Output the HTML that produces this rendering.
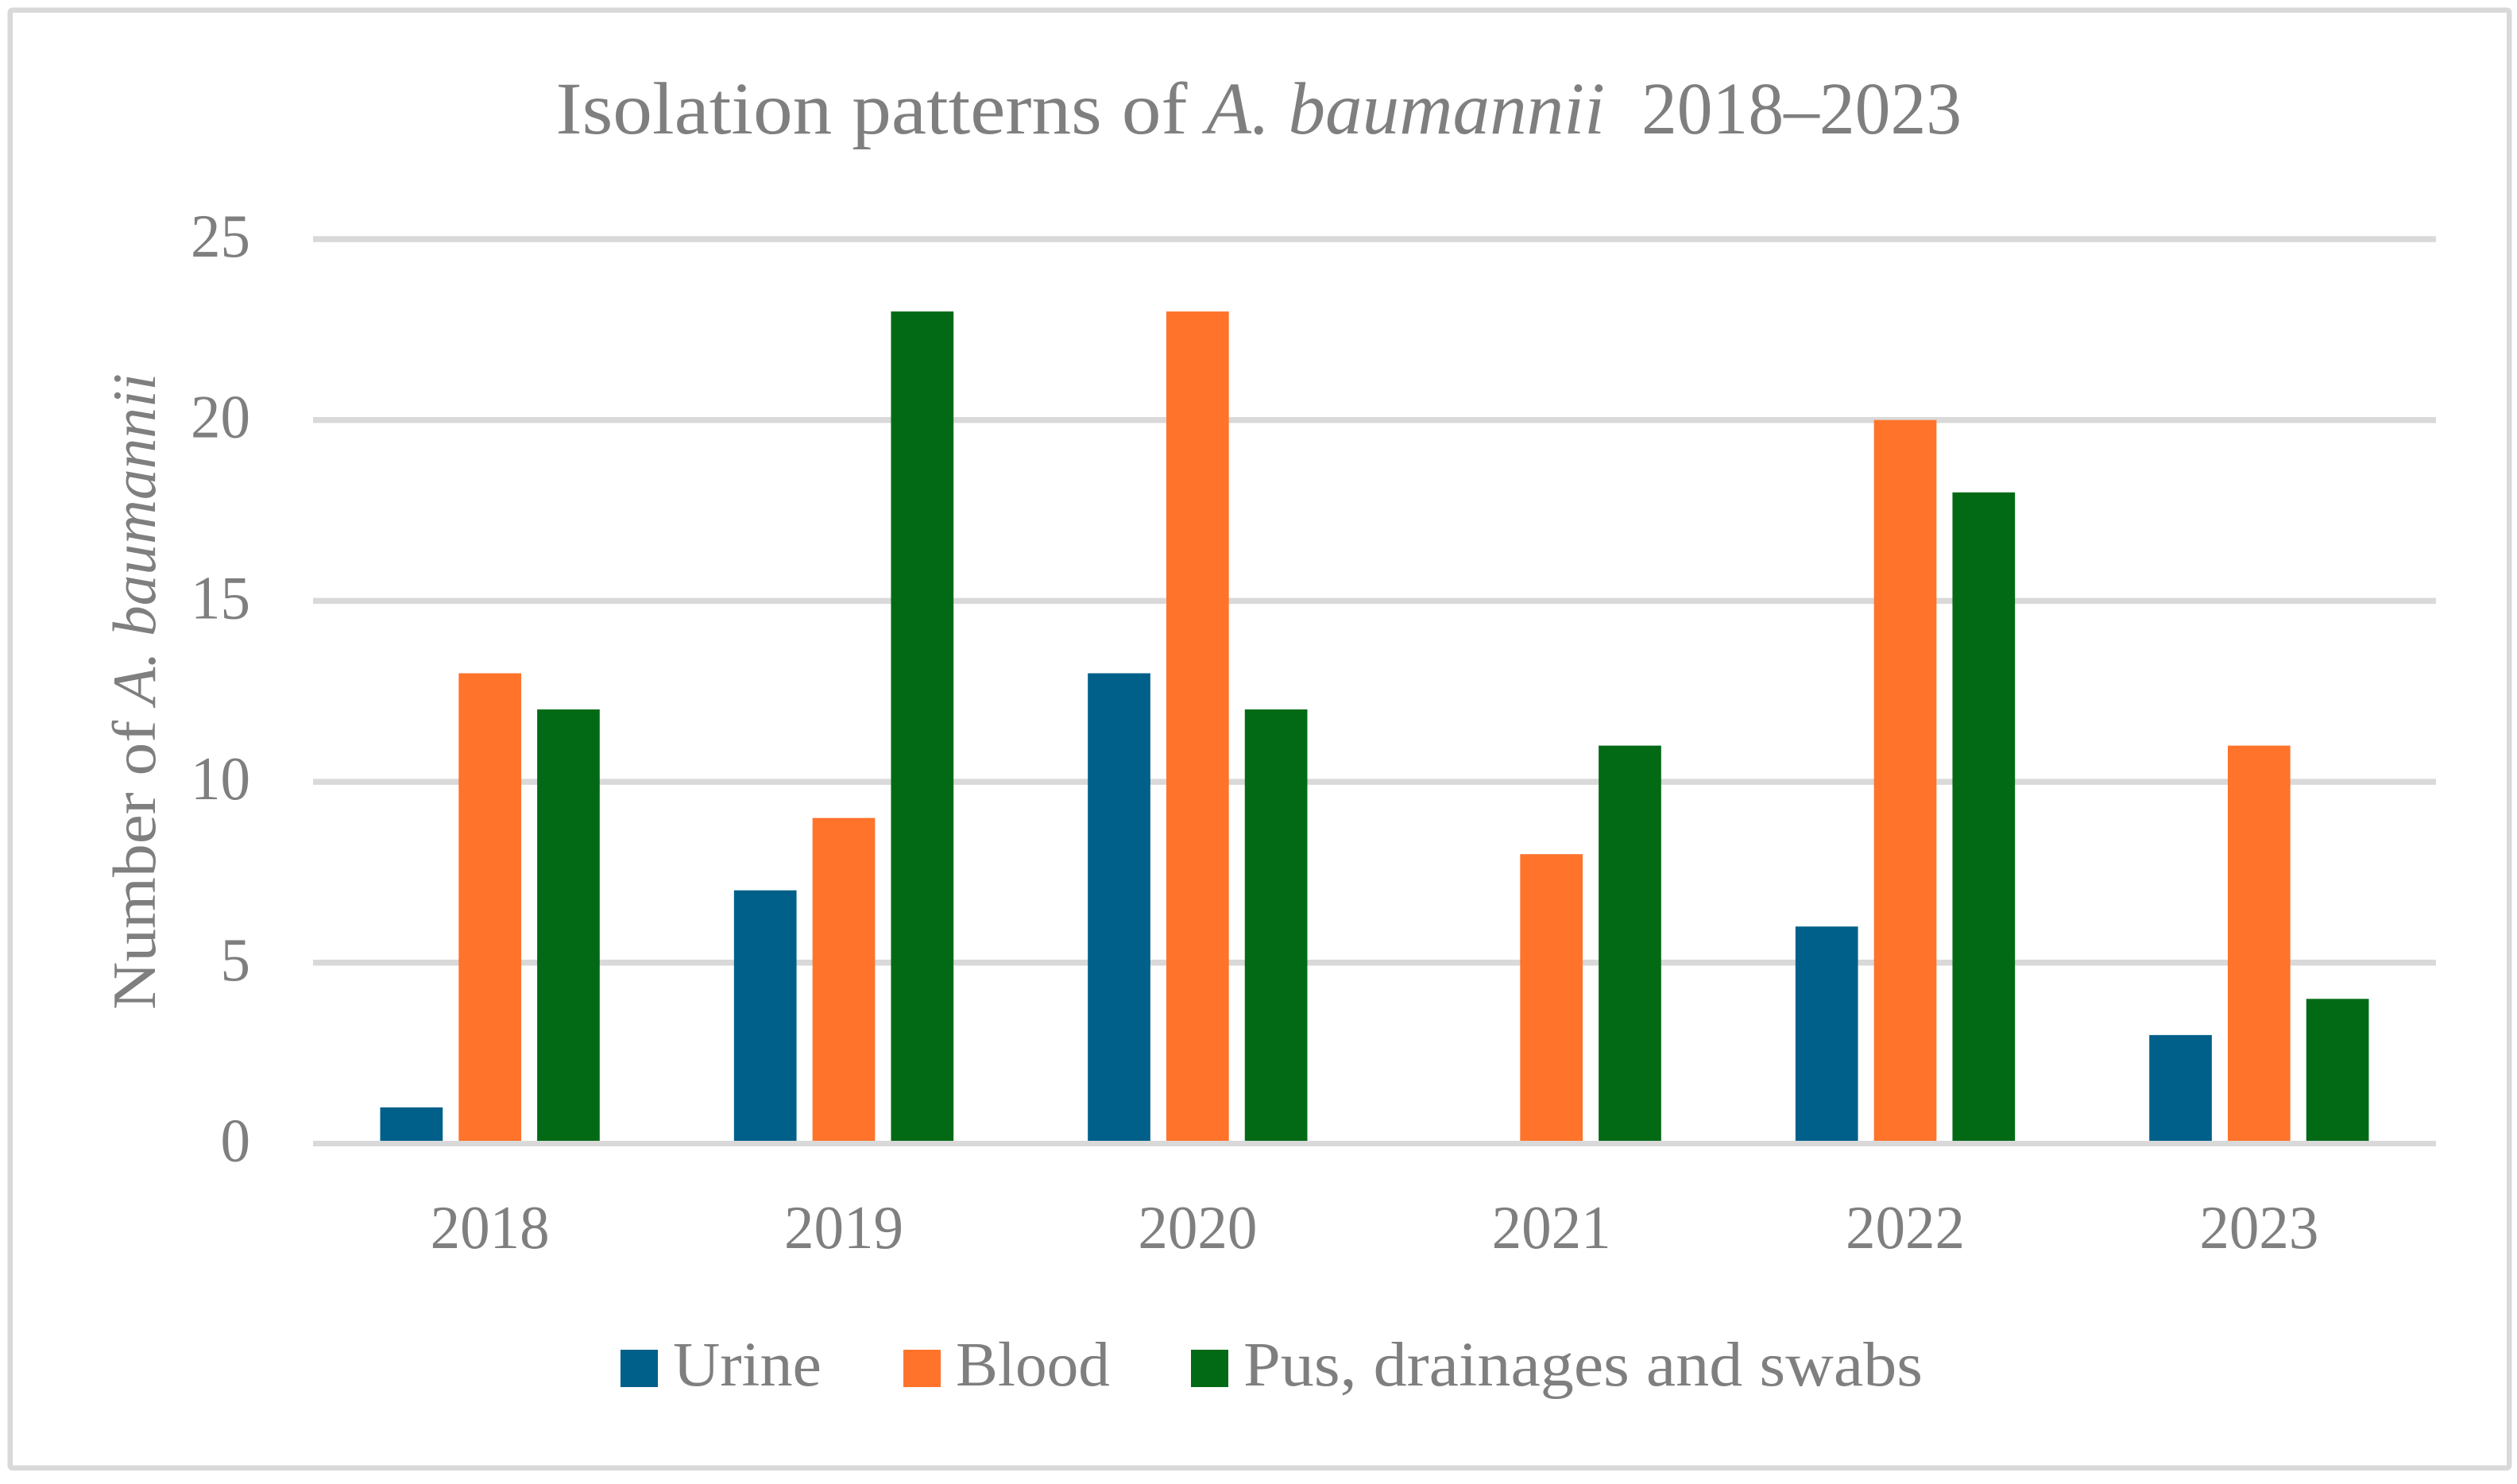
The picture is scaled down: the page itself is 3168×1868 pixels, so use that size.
<!DOCTYPE html>
<html lang="en">
<head>
<meta charset="utf-8">
<title>Isolation patterns of A. baumannii 2018–2023</title>
<style>
  html, body { margin: 0; padding: 0; background: #fff; }
  svg { display: block; }
  text { font-family: "Liberation Serif", "DejaVu Serif", serif; fill: #7f7f7f; }
</style>
</head>
<body>
<svg id="chart" xmlns="http://www.w3.org/2000/svg" width="3168" height="1868" viewBox="0 0 3168 1868">
  <rect x="0" y="0" width="3168" height="1868" fill="#ffffff"/>
  <rect x="12.75" y="12.75" width="3145.5" height="1835" rx="3" fill="#ffffff" stroke="#d9d9d9" stroke-width="6.5"/>

  <text y="168" font-size="93">
    <tspan x="699.5" textLength="795" lengthAdjust="spacingAndGlyphs">Isolation patterns of</tspan>
    <tspan x="1518" textLength="502" lengthAdjust="spacingAndGlyphs" font-style="italic">A. baumannii</tspan>
    <tspan x="2066" textLength="403" lengthAdjust="spacingAndGlyphs">2018–2023</tspan>
  </text>

  <text transform="translate(195 1271) rotate(-90)" y="0" font-size="77">
    <tspan x="0" textLength="364" lengthAdjust="spacingAndGlyphs">Number of</tspan>
    <tspan x="384" textLength="417" lengthAdjust="spacingAndGlyphs" font-style="italic">A. baumannii</tspan>
  </text>

  <g id="grid"></g>
  <g id="y-ticks"></g>
  <g id="bars"></g>
  <g id="axis"></g>
  <g id="x-ticks"></g>

  <g>
    <g>
      <rect x="781" y="1699" width="47" height="47" fill="#00608a"/>
      <text x="847" y="1744" font-size="79" textLength="187" lengthAdjust="spacingAndGlyphs">Urine</text>
    </g>
    <g>
      <rect x="1137" y="1699" width="47" height="47" fill="#ff732b"/>
      <text x="1203" y="1744" font-size="79" textLength="194" lengthAdjust="spacingAndGlyphs">Blood</text>
    </g>
    <g>
      <rect x="1499" y="1699" width="47" height="47" fill="#026a15"/>
      <text x="1565" y="1744" font-size="79" textLength="855" lengthAdjust="spacingAndGlyphs">Pus, drainages and swabs</text>
    </g>
  </g>
</svg>
<script>
const categories = ['2018', '2019', '2020', '2021', '2022', '2023'];
const urineValues = [1, 7, 13, 0, 6, 3];
const bloodValues = [13, 9, 23, 8, 20, 11];
const pusValues = [12, 23, 12, 11, 18, 4];
const yTickValues = [0, 5, 10, 15, 20, 25];

const NS = 'http://www.w3.org/2000/svg';
const plotLeft = 394, plotRight = 3066, plotBottom = 1439.5, plotTop = 301;
const yMax = 25, barWidth = 78.7, barStep = 98.8;
const digitAdvance = 37.5;

function yScale(v) { return plotBottom - (v / yMax) * (plotBottom - plotTop); }
function xCenter(i) { return plotLeft + (i + 0.5) * (plotRight - plotLeft) / categories.length; }

const gridGroup = document.getElementById('grid');
const yTickGroup = document.getElementById('y-ticks');
yTickValues.forEach(function (tick) {
  if (tick !== 0) {
    const line = document.createElementNS(NS, 'line');
    
    
    line.setAttribute('x1', plotLeft);
    line.setAttribute('x2', plotRight);
    line.setAttribute('y1', yScale(tick));
    line.setAttribute('y2', yScale(tick));
    line.setAttribute('stroke', '#d9d9d9');
    line.setAttribute('stroke-width', '7.5');
    gridGroup.appendChild(line);
  }
  const label = document.createElementNS(NS, 'text');
  
  
  label.setAttribute('x', 315);
  label.setAttribute('y', yScale(tick) + 22);
  label.setAttribute('font-size', '77');
  label.setAttribute('text-anchor', 'end');
  label.setAttribute('textLength', String(tick).length * digitAdvance);
  label.setAttribute('lengthAdjust', 'spacingAndGlyphs');
  label.textContent = String(tick);
  yTickGroup.appendChild(label);
});

const barGroup = document.getElementById('bars');
function drawSeries(seriesName, values, color, offsetIndex) {
  values.forEach(function (v, i) {
    const bar = document.createElementNS(NS, 'rect');
    
    
    bar.setAttribute('x', xCenter(i) + offsetIndex * barStep - barWidth / 2);
    bar.setAttribute('y', yScale(v));
    bar.setAttribute('width', barWidth);
    bar.setAttribute('height', plotBottom - yScale(v));
    bar.setAttribute('fill', color);
    barGroup.appendChild(bar);
  });
}
drawSeries('urine', urineValues, '#00608a', -1);
drawSeries('blood', bloodValues, '#ff732b', 0);
drawSeries('pus', pusValues, '#026a15', 1);

const axisLine = document.createElementNS(NS, 'line');


axisLine.setAttribute('x1', plotLeft);
axisLine.setAttribute('x2', plotRight);
axisLine.setAttribute('y1', yScale(0));
axisLine.setAttribute('y2', yScale(0));
axisLine.setAttribute('stroke', '#d9d9d9');
axisLine.setAttribute('stroke-width', '7');
document.getElementById('axis').appendChild(axisLine);

const xTickGroup = document.getElementById('x-ticks');
categories.forEach(function (cat, i) {
  const label = document.createElementNS(NS, 'text');
  
  
  label.setAttribute('x', xCenter(i));
  label.setAttribute('y', 1571);
  label.setAttribute('font-size', '77');
  label.setAttribute('text-anchor', 'middle');
  label.setAttribute('textLength', cat.length * digitAdvance);
  label.setAttribute('lengthAdjust', 'spacingAndGlyphs');
  label.textContent = cat;
  xTickGroup.appendChild(label);
});
</script>
</body>
</html>
